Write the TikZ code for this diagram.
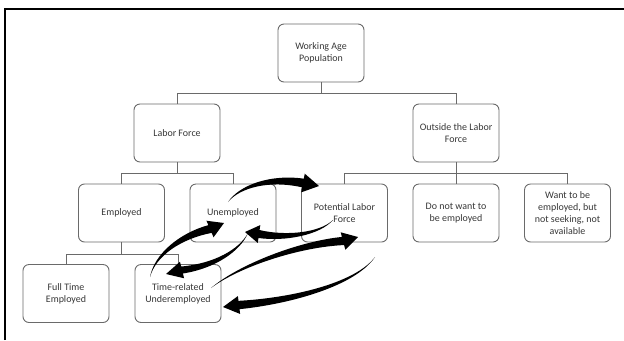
\documentclass[tikz,border=0pt]{standalone}
\usepackage{fontspec}
\setmainfont{Carlito}
\usetikzlibrary{calc}
\definecolor{boxgray}{HTML}{6A6A6A}
\definecolor{txtgray}{HTML}{383838}
\tikzset{
  box/.style={draw=boxgray, line width=0.9bp, fill=white, rounded corners=6bp,
    minimum width=86bp, minimum height=58bp, inner sep=0pt, align=center,
    text=txtgray, font=\fontsize{10}{12}\selectfont},
  link/.style={draw=boxgray, line width=0.9bp},
  frame/.style={draw=black, line width=1.6bp},
  arrowfill/.style={fill=black}
}
% tapered curved arrow: S, C1, C2, B (head base), T (tip), body half width, head half width
\newcommand\tarr[7]{%
  \fill[arrowfill] (#1) .. controls ($(#2)!0.3*#6!90:(#3)$) and ($(#3)!0.7*#6!90:(#4)$) ..
    ($(#4)!#6!90:(#5)$) -- ($(#4)!#7!90:(#5)$) -- (#5) -- ($(#4)!#7!-90:(#5)$) --
    ($(#4)!#6!-90:(#5)$) .. controls ($(#3)!0.7*#6!-90:(#4)$) and ($(#2)!0.3*#6!-90:(#3)$) ..
    (#1) -- cycle;}
\begin{document}
\begin{tikzpicture}[x=1bp, y=-1bp]
\useasboundingbox (0,0) rectangle (624,340);
\coordinate (fbl) at (5,340);
\coordinate (ftl) at (5,9);
\coordinate (ftr) at (624,9);
\draw[frame] (fbl) -- (ftl) -- (ftr);

\node[box] (wap) at (321,53) {Working Age\\Population};
\node[box] (lf)  at (177,133) {Labor Force};
\node[box] (olf) at (456,133) {Outside the Labor\\Force};
\node[box] (emp) at (121.5,213) {Employed};
\node[box] (une) at (233,213) {Unemployed};
\node[box] (plf) at (344.5,213) {Potential Labor\\Force};
\node[box] (dnw) at (456,213) {Do not want to\\be employed};
\node[box] (wtb) at (567.5,213) {Want to be\\employed, but\\not seeking, not\\available};
\node[box] (fte) at (66,293.5) {Full Time\\Employed};
\node[box] (tru) at (178,293.5) {Time-related\\Underemployed};

\coordinate (j1) at ($(wap.south)+(0,11)$);
\draw[link] (wap.south) -- (j1) -| (lf.north);
\draw[link] (j1) -| (olf.north);
\coordinate (j2) at ($(lf.south)+(0,11)$);
\draw[link] (lf.south) -- (j2) -| (emp.north);
\draw[link] (j2) -| (une.north);
\coordinate (j3) at ($(olf.south)+(0,11)$);
\draw[link] (olf.south) -- (j3) -| (plf.north);
\draw[link] (j3) -| (dnw.north);
\draw[link] (j3) -| (wtb.north);
\coordinate (j4) at ($(emp.south)+(0,12)$);
\draw[link] (emp.south) -- (j4) -| (fte.north);
\draw[link] (j4) -| (tru.north);

% curved block arrows
\tarr{228,202}{240,186}{270,177}{303,183}{319,186}{4.4bp}{9.5bp}
\tarr{333,220}{320,234}{285,239}{259,234}{245,232}{4bp}{9bp}
\tarr{248,233}{240,250}{215,266}{182,270}{166,274}{3.6bp}{8.5bp}
\tarr{150,277}{155,255}{180,236}{210,229}{224,223}{4.2bp}{9bp}
\tarr{211,288}{240,265}{300,244}{343,241}{358,237}{4.2bp}{9bp}
\tarr{375,257}{355,285}{290,301}{239,305}{223,307}{4.2bp}{9bp}
\end{tikzpicture}
\end{document}
